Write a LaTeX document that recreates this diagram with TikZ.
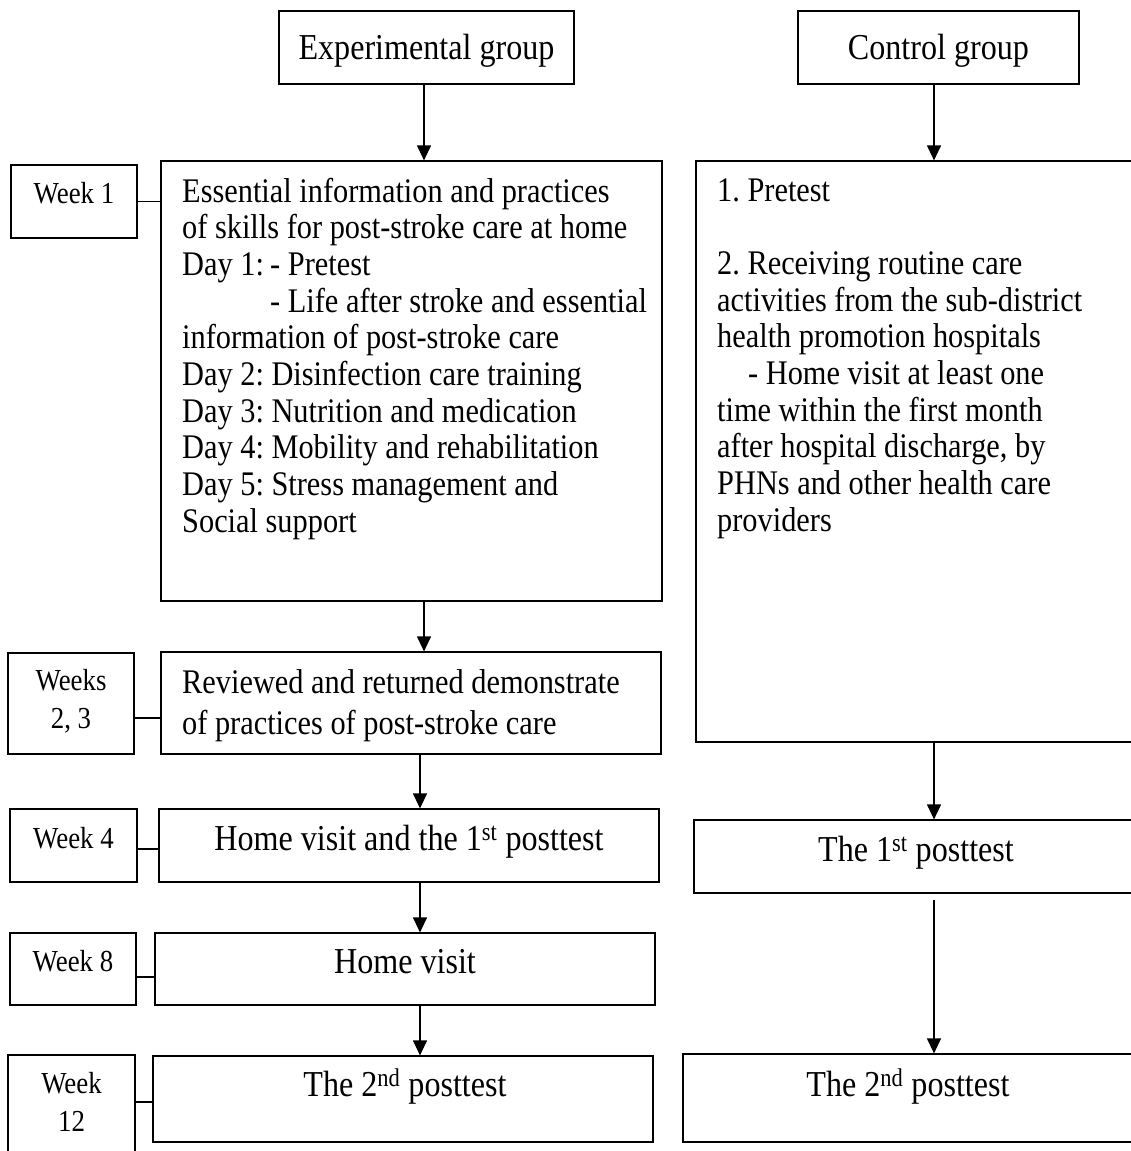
\documentclass[tikz,border=0pt]{standalone}
\usepackage{fontspec}
\setmainfont{Liberation Serif}[FakeStretch=0.88]
\usetikzlibrary{arrows.meta}
\frenchspacing

% type sizes for the flowchart (narrow, tall Times)
\newcommand\bodyfont{\fontsize{34.5}{36.7}\selectfont}
\newcommand\labfont{\fontsize{36.5}{38}\selectfont}
\newcommand\weekfont{\fontsize{30.5}{36}\selectfont}

\tikzset{
  box/.style={draw, line width=1.2pt, rectangle, inner sep=0pt},
  arr/.style={line width=1.2pt, -{Triangle[width=14pt,length=15pt]}},
  link/.style={line width=1.2pt},
  txt/.style={inner sep=0pt, anchor=base west, font=\bodyfont},
  ctxt/.style={inner sep=0pt, anchor=base, font=\labfont},
  wtxt/.style={inner sep=0pt, anchor=base, font=\weekfont},
}

\begin{document}
\begin{tikzpicture}[x=1pt, y=-1pt]
\useasboundingbox (0,0) rectangle (1131,1151);

% ---------- group headers ----------
\node[box, minimum width=295pt, minimum height=73pt] (exp)  at (426.5,47.5) {};
\node[box, minimum width=281pt, minimum height=73pt] (ctrl) at (938.5,47.5) {};
\node[ctxt] (expT)  at (426.5,59) {Experimental group};
\node[ctxt] (ctrlT) at (938.5,59) {Control group};

% ---------- experimental arm ----------
\node[box, minimum width=501pt, minimum height=440pt] (e1) at (411.5,381) {};
\node[box, minimum width=500pt, minimum height=102pt] (e2) at (411,703) {};
\node[box, minimum width=500pt, minimum height=73pt]  (e3) at (409,845.5) {};
\node[box, minimum width=500pt, minimum height=72pt]  (e4) at (405,969) {};
\node[box, minimum width=500pt, minimum height=86pt]  (e5) at (403,1099) {};

\foreach \t [count=\i] in {
    Essential information and practices,
    of skills for post-stroke care at home,
    \makebox[88pt][l]{Day 1:}- Pretest,
    ,
    information of post-stroke care,
    Day 2: Disinfection care training,
    Day 3: Nutrition and medication,
    Day 4: Mobility and rehabilitation,
    Day 5: Stress management and,
    Social support}
  \node[txt] (e1l\i) at (182,{202+36.7*(\i-1)}) {\t};
\node[txt] (e1l4b) at (270,{202+36.7*3}) {- Life after stroke and essential};

\node[txt] (e2l1) at (182,693) {Reviewed and returned demonstrate};
\node[txt] (e2l2) at (182,734) {of practices of post-stroke care};

\node[ctxt] (e3T) at (409,850)  {Home visit and the 1\textsuperscript{st} posttest};
\node[ctxt] (e4T) at (405,973)  {Home visit};
\node[ctxt] (e5T) at (405,1096) {The 2\textsuperscript{nd} posttest};

% ---------- week markers ----------
\node[box, minimum width=126pt, minimum height=73pt]  (w1) at (74,201.5) {};
\node[box, minimum width=126pt, minimum height=101pt] (w2) at (71,703.5) {};
\node[box, minimum width=127pt, minimum height=73pt]  (w3) at (73.5,845.5) {};
\node[box, minimum width=126pt, minimum height=72pt]  (w4) at (73,969) {};
\node[box, minimum width=127pt, minimum height=110pt] (w5) at (71.5,1110) {};

\node[wtxt] (w1T)  at (74,203)   {Week 1};
\node[wtxt] (w2Ta) at (71,690)   {Weeks};
\node[wtxt] (w2Tb) at (71,728)   {2, 3};
\node[wtxt] (w3T)  at (73.5,848) {Week 4};
\node[wtxt] (w4T)  at (73,971)   {Week 8};
\node[wtxt] (w5Ta) at (71.5,1093) {Week};
\node[wtxt] (w5Tb) at (71.5,1131) {12};

\draw[link] (w1.east) -- (w1.east -| e1.west);
\draw[link] ([yshift=-14.5pt]w2.east) -- ([yshift=-14.5pt]w2.east -| e2.west);
\draw[link] ([yshift=-3.5pt]w3.east) -- ([yshift=-3.5pt]w3.east -| e3.west);
\draw[link] ([yshift=-8pt]w4.east) -- ([yshift=-8pt]w4.east -| e4.west);
\draw[link] ([yshift=8pt]w5.east) -- ([yshift=8pt]w5.east -| e5.west);

% ---------- control arm ----------
\node[box, minimum width=444pt, minimum height=581pt] (c1) at (918,451.5) {};
\node[box, minimum width=444pt, minimum height=73pt]  (c2) at (916,856.5) {};
\node[box, minimum width=450pt, minimum height=88pt]  (c3) at (908,1098) {};

\foreach \t [count=\i] in {
    1. Pretest,
    ,
    2. Receiving routine care,
    activities from the sub-district,
    health promotion hospitals,
    ,
    time within the first month,
    {after hospital discharge, by},
    PHNs and other health care,
    providers}
  \node[txt] (c1l\i) at (717,{201+36.7*(\i-1)}) {\t};
\node[txt] (c1l6b) at (748,{201+36.7*5}) {- Home visit at least one};

\node[ctxt] (c2T) at (916,861)  {The 1\textsuperscript{st} posttest};
\node[ctxt] (c3T) at (908,1096) {The 2\textsuperscript{nd} posttest};

% ---------- flow arrows ----------
\coordinate (colA) at (424,0);
\coordinate (colB) at (420,0);
\coordinate (colC) at (934,0);

\draw[arr] (exp.south -| colA) -- (e1.north -| colA);
\draw[arr] (e1.south -| colA) -- (e2.north -| colA);
\draw[arr] (e2.south -| colB) -- (e3.north -| colB);
\draw[arr] (e3.south -| colB) -- (e4.north -| colB);
\draw[arr] (e4.south -| colB) -- (e5.north -| colB);

\draw[arr] (ctrl.south -| colC) -- (c1.north -| colC);
\draw[arr] (c1.south -| colC) -- (c2.north -| colC);
\draw[arr] ([yshift=-6pt]c2.south -| colC) -- (c3.north -| colC);
\end{tikzpicture}
\end{document}
